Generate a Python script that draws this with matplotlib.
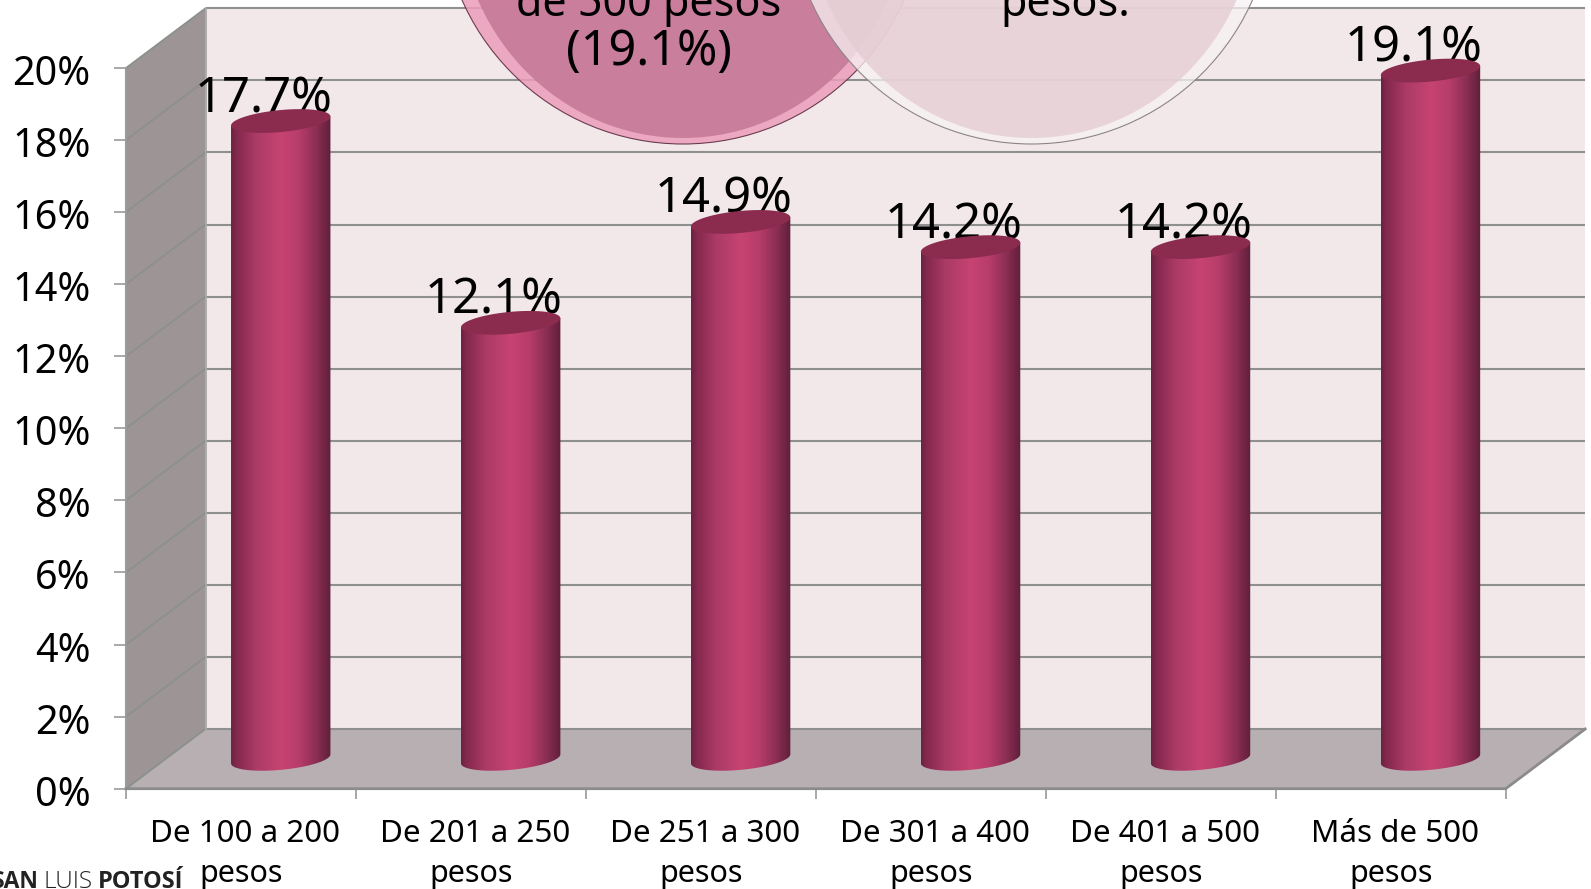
import numpy as np
import matplotlib
matplotlib.use("Agg")
import matplotlib.pyplot as plt
from matplotlib.colors import LinearSegmentedColormap
from matplotlib.patches import Circle, Ellipse, PathPatch, Polygon
from matplotlib.path import Path
from matplotlib.transforms import ScaledTranslation

categories_line1 = ["De 100 a 200", "De 201 a 250", "De 251 a 300", "De 301 a 400", "De 401 a 500", "Más de 500"]
categories_line2 = ["pesos"] * 6
values = [17.7, 12.1, 14.9, 14.2, 14.2, 19.1]
value_labels = ["17.7%", "12.1%", "14.9%", "14.2%", "14.2%", "19.1%"]
y_ticks = list(range(0, 21, 2))

W, H = 1591, 889
FONT = "Noto Sans"
fig = plt.figure(figsize=(W / 100, H / 100), dpi=100, facecolor="white")
L, R, B, T = 126.0, 1505.7, 788.7, 68.0
ax = fig.add_axes([L / W, 1 - B / H, (R - L) / W, (B - T) / H])
ax.set_facecolor("none")
px_x = (R - L) / 6
px_y = (B - T) / 20
DX = 79.5 / px_x
DY = 59.7 / px_y

GRID = "#8f8f8f"
WALL_LINE = "#8c908c"
# walls and floor
ax.add_patch(Polygon([(DX, DY), (6 + DX, DY), (6 + DX, 20 + DY), (DX, 20 + DY)], fc="#f2e8ea", ec="none", zorder=1, clip_on=False))
ax.add_patch(Polygon([(0, 0), (DX, DY), (DX, 20 + DY), (0, 20)], fc="#9d9496", ec="none", zorder=1, clip_on=False))
ax.add_patch(Polygon([(0, 0), (6, 0), (6 + DX, DY), (DX, DY)], fc="#b8afb2", ec="none", zorder=1, clip_on=False))
for v in y_ticks:
    ax.plot([DX, 6 + DX], [v + DY, v + DY], color=GRID, lw=1.5, zorder=2, clip_on=False, solid_capstyle="butt")
    ax.plot([0, DX], [v, v + DY], color=WALL_LINE, lw=1.3, zorder=2, clip_on=False)
ax.plot([DX, DX], [DY, 20 + DY], color="#a8a8a8", lw=1.3, zorder=2, clip_on=False)
ax.plot([0, 0], [0, 20], color="#9a9a9a", lw=1.5, zorder=3, clip_on=False)
ax.plot([0, 6, 6 + DX], [0, 0, DY], color="#8b8b8b", lw=2, zorder=3, clip_on=False)

# cylinders
cyl = LinearSegmentedColormap.from_list("cyl", [(0, "#6c2343"), (0.06, "#85294f"), (0.25, "#ab3b65"),
                                               (0.5, "#c74372"), (0.68, "#b83d6a"), (0.86, "#8b2e53"), (1, "#5f1f3b")])
hw = 49.7 / px_x
b_e = 11.0 / px_y
s_e = 4.5 / px_y
t_arc = np.linspace(0, 2 * np.pi, 121)
for i, (val, lab) in enumerate(zip(values, value_labels)):
    cx = i + 0.5 + DX / 2
    base = DY / 2
    top = base + val
    # label sits behind the cylinder cap
    ax.annotate(lab, (cx, top), xytext=(-17, -3), textcoords="offset pixels", ha="center", va="bottom",
                fontsize=35.3, family=FONT, color="black", zorder=4, annotation_clip=False)
    low = np.linspace(np.pi, 2 * np.pi, 60)
    xs = np.concatenate([cx + hw * np.cos(low), [cx + hw, cx - hw]])
    ys = np.concatenate([base + b_e * np.sin(low) + s_e * np.cos(low), [top + s_e, top - s_e]])
    body = PathPatch(Path(np.column_stack([xs, ys])), fc="none", ec="none", transform=ax.transData, clip_on=False)
    ax.add_patch(body)
    im = ax.imshow(np.linspace(0, 1, 128)[None, :], cmap=cyl, aspect="auto", zorder=5,
                   extent=[cx - hw, cx + hw, base - 2, top + 2], interpolation="bilinear")
    im.set_clip_box(fig.bbox)
    im.set_clip_path(body)
    ax.fill(cx + hw * np.cos(t_arc), top + b_e * np.sin(t_arc) + s_e * np.cos(t_arc),
            color="#8b2c4f", zorder=6, clip_on=False, lw=0)

ax.set_xlim(0, 6)
ax.set_ylim(0, 20)
for sp in ax.spines.values():
    sp.set_visible(False)
ax.set_xticks(range(7))
ax.set_xticklabels([])
ax.set_yticks(y_ticks)
ax.set_yticklabels([f"{v}%" for v in y_ticks], fontsize=28.5, family=FONT, color="black")
ax.tick_params(axis="y", length=8.5, width=1.2, color="#9a9a9a", pad=17)
ax.tick_params(axis="x", length=7, width=1.2, color="#9a9a9a")
down = ScaledTranslation(0, -2 / 100, fig.dpi_scale_trans)
for t in ax.get_yticklabels():
    t.set_transform(t.get_transform() + down)
for i, (a, b) in enumerate(zip(categories_line1, categories_line2)):
    ax.annotate(a, (i + 0.5, 0), xytext=(4, -45), textcoords="offset pixels", ha="center", va="center",
                fontsize=22.6, family=FONT, color="black", annotation_clip=False)
    ax.annotate(b, (i + 0.5, 0), xytext=(0, -85), textcoords="offset pixels", ha="center", va="center",
                fontsize=22, family=FONT, color="black", annotation_clip=False)

# overlay in pixel space: glass bubbles and footer
ov = fig.add_axes([0, 0, 1, 1])
ov.set_xlim(0, W)
ov.set_ylim(H, 0)
ov.axis("off")
r = 241.6
cy = -97.6
lx, rx = 683.0, 1031.5
ov.add_patch(Circle((lx, cy), r, fc="#ec9dba", ec="none", alpha=0.85, zorder=1))
ov.add_patch(Ellipse((lx, cy - 1), 2 * (r - 16), 2 * (r - 5), fc="#c67a98", ec="none", alpha=0.9, zorder=2))
ov.add_patch(Circle((lx, cy), r, fc="none", ec="#6b3c4e", lw=0.8, zorder=3))
ov.add_patch(Circle((rx, cy), r, fc="#f8f2f3", ec="none", alpha=0.75, zorder=4))
ov.add_patch(Ellipse((rx, cy - 1), 2 * (r - 16), 2 * (r - 5), fc="#e4ccd2", ec="none", alpha=0.8, zorder=5))
ov.add_patch(Circle((rx, cy), r, fc="none", ec="#8c8587", lw=0.8, zorder=6))
ov.text(649, 5, "de 500 pesos", ha="center", va="center", fontsize=31, family=FONT, color="black", zorder=7)
ov.text(649, 52, "(19.1%)", ha="center", va="center", fontsize=35, family=FONT, color="black", zorder=7)
ov.text(1065, 5, "pesos.", ha="center", va="center", fontsize=31, family=FONT, color="black", zorder=7)
base_y = 888
ov.text(39, base_y, "SAN", ha="right", va="baseline", fontsize=16.5, family="Open Sans", weight="bold", color="#222222", zorder=7)
ov.text(44, base_y, "LUIS", ha="left", va="baseline", fontsize=17.5, family="Open Sans", weight="light", color="#222222", zorder=7)
ov.text(98, base_y, "POTOSÍ", ha="left", va="baseline", fontsize=17, family="Open Sans", weight="bold", color="#222222", zorder=7)

fig.savefig("out.png", dpi=100, facecolor="white")
